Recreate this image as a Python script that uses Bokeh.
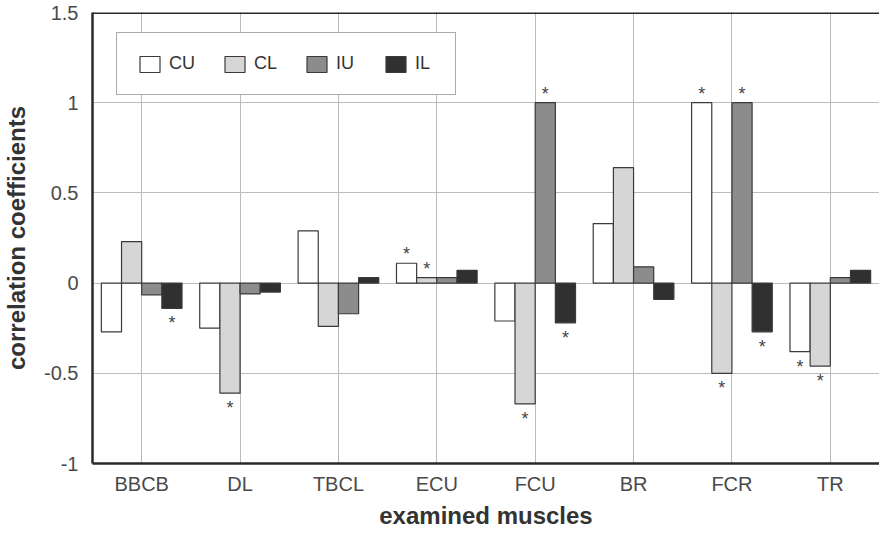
from bokeh.plotting import figure
from bokeh.models import (ColumnDataSource, FactorRange, Range1d, FixedTicker,
                          Legend, LegendItem, Span)
from bokeh.transform import dodge
from bokeh.core.properties import value
from bokeh.embed import file_html
from bokeh.resources import INLINE

# ---------------- data ----------------
muscles = ["BBCB", "DL", "TBCL", "ECU", "FCU", "BR", "FCR", "TR"]
series_names = ["CU", "CL", "IU", "IL"]
CU = [-0.27, -0.25, 0.29, 0.11, -0.21, 0.33, 1.00, -0.38]
CL = [0.23, -0.61, -0.24, 0.03, -0.67, 0.64, -0.50, -0.46]
IU = [-0.065, -0.06, -0.17, 0.03, 1.00, 0.09, 1.00, 0.03]
IL = [-0.14, -0.05, 0.03, 0.07, -0.22, -0.09, -0.27, 0.07]
# significance markers (*)
CU_sig = [0, 0, 0, 1, 0, 0, 1, 1]
CL_sig = [0, 1, 0, 1, 1, 0, 1, 1]
IU_sig = [0, 0, 0, 0, 1, 0, 1, 0]
IL_sig = [1, 0, 0, 0, 1, 0, 1, 0]
y_ticks = [-1, -0.5, 0, 0.5, 1, 1.5]
y_tick_labels = ["-1", "-0.5", "0", "0.5", "1", "1.5"]

values = {"CU": CU, "CL": CL, "IU": IU, "IL": IL}
sigs = {"CU": CU_sig, "CL": CL_sig, "IU": IU_sig, "IL": IL_sig}

# ---------------- style ----------------
FONT = "Liberation Sans"
fills = {"CU": "#ffffff", "CL": "#d6d6d6", "IU": "#8c8c8c", "IL": "#303030"}
bar_w = 0.205
offsets = {"CU": -1.5 * bar_w, "CL": -0.5 * bar_w, "IU": 0.5 * bar_w, "IL": 1.5 * bar_w}

source = ColumnDataSource(dict(muscle=muscles, CU=CU, CL=CL, IU=IU, IL=IL))

p = figure(x_range=FactorRange(factors=muscles, range_padding=0),
           y_range=Range1d(-1, 1.5),
           width=879, height=531,
           output_backend="svg", toolbar_location=None,
           min_border_left=80, min_border_right=0,
           min_border_top=12, min_border_bottom=40)

p.background_fill_color = "white"
p.border_fill_color = "white"
p.outline_line_color = None

# grid
p.xgrid.grid_line_color = "#bcbcbc"
p.ygrid.grid_line_color = "#bcbcbc"
p.xgrid.grid_line_width = 1
p.ygrid.grid_line_width = 1
p.yaxis.ticker = FixedTicker(ticks=y_ticks)
p.yaxis.major_label_overrides = {t: l for t, l in zip(y_ticks, y_tick_labels)}

# axes
for ax in (p.xaxis, p.yaxis):
    ax.axis_line_color = "#2a2a2a"
    ax.axis_line_width = 2.5
    ax.major_tick_line_color = None
    ax.minor_tick_line_color = None
    ax.major_tick_out = 0
    ax.major_tick_in = 0
    ax.minor_tick_out = 0
    ax.minor_tick_in = 0
    ax.major_label_text_font = FONT
    ax.major_label_text_font_size = "20px"
    ax.major_label_text_color = "#4a4a4a"
    ax.axis_label_text_font = FONT
    ax.axis_label_text_font_size = "24px"
    ax.axis_label_text_font_style = "bold"
    ax.axis_label_text_color = "#333333"

p.xaxis.axis_label = "examined muscles"
p.yaxis.axis_label = "correlation coefficients"
p.xaxis.major_label_standoff = 9
p.xaxis.axis_label_standoff = 4
p.yaxis.major_label_standoff = 14
p.yaxis.axis_label_standoff = 11

# top frame line
p.add_layout(Span(location=1.5, dimension="width", line_color="#2a2a2a", line_width=3))

# bars
renderers = {}
for name in series_names:
    r = p.vbar(x=dodge("muscle", offsets[name], range=p.x_range), top=name, bottom=0,
               width=bar_w, source=source, fill_color=fills[name],
               line_color="#3a3a3a", line_width=1.2)
    renderers[name] = r

# asterisks
for name in series_names:
    xs, ys, offs = [], [], []
    for m, v, s in zip(muscles, values[name], sigs[name]):
        if s:
            xs.append(m)
            ys.append(v)
            offs.append(-9 if v >= 0 else 15)
    src = ColumnDataSource(dict(x=xs, y=ys, off=offs, t=["*"] * len(xs)))
    p.text(x=dodge("x", offsets[name], range=p.x_range), y="y", text="t", y_offset="off",
           source=src, text_align="center", text_baseline="alphabetic",
           text_font=value(FONT), text_font_size="18px", text_color="#444444")

legend = Legend(items=[LegendItem(label=n, renderers=[renderers[n]]) for n in series_names],
                orientation="horizontal", location=(24, 368))
legend.glyph_width = 25
legend.glyph_height = 20
legend.label_standoff = 7
legend.spacing = 27
legend.padding = 20
legend.margin = 0
legend.label_text_font = FONT
legend.label_text_font_size = "18px"
legend.label_text_color = "#333333"
legend.border_line_color = "#555555"
legend.border_line_width = 1.5
legend.background_fill_color = "white"
legend.background_fill_alpha = 1
p.add_layout(legend)

open("out.html", "w").write(file_html(p, INLINE))
